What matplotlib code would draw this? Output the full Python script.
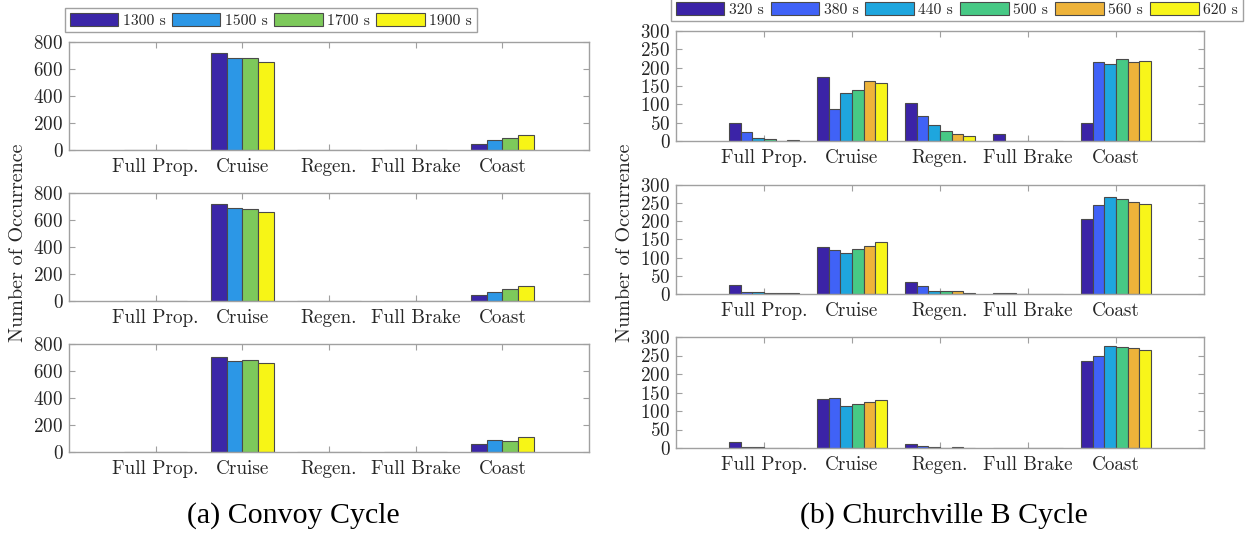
import numpy as np
import matplotlib
matplotlib.use("Agg")
import matplotlib.pyplot as plt
from matplotlib.patches import Patch

plt.rcParams["axes.formatter.use_mathtext"] = True

# ---- data -------------------------------------------------------------
modes = ["Full Prop.", "Cruise", "Regen.", "Full Brake", "Coast"]

convoy_labels = ["1300 s", "1500 s", "1700 s", "1900 s"]
convoy_colors = ["#3B26A8", "#2C97E6", "#7DC95B", "#F7F516"]
# rows: series (horizon), columns: modes
convoy_top = [
    [0, 716, 0, 0, 47],
    [0, 685, 0, 0, 74],
    [0, 680, 0, 0, 89],
    [0, 655, 0, 0, 111],
]
convoy_mid = [
    [2, 718, 2, 0, 47],
    [1, 691, 1, 0, 70],
    [0, 681, 0, 0, 87],
    [0, 658, 0, 0, 112],
]
convoy_bot = [
    [1, 702, 0, 0, 62],
    [1, 677, 0, 0, 86],
    [0, 682, 0, 0, 81],
    [0, 658, 0, 0, 108],
]

church_labels = ["320 s", "380 s", "440 s", "500 s", "560 s", "620 s"]
church_colors = ["#3B23A7", "#4062F7", "#1EA6DE", "#47C985", "#EEB33A", "#F8F51A"]
church_top = [
    [49, 174, 103, 19, 49],
    [24, 87, 68, 0, 215],
    [9, 132, 45, 0, 211],
    [5, 140, 26, 0, 223],
    [0, 163, 18, 0, 215],
    [2, 159, 14, 0, 219],
]
church_mid = [
    [24, 128, 33, 4, 207],
    [6, 121, 21, 2, 244],
    [5, 114, 9, 0, 268],
    [2, 123, 8, 0, 262],
    [2, 132, 8, 0, 254],
    [2, 143, 2, 0, 249],
]
church_bot = [
    [17, 132, 11, 0, 234],
    [4, 135, 6, 0, 249],
    [2, 113, 2, 0, 275],
    [0, 118, 0, 0, 274],
    [0, 123, 2, 0, 270],
    [0, 129, 0, 0, 265],
]

convoy_yticks = [0, 200, 400, 600, 800]
church_yticks = [0, 50, 100, 150, 200, 250, 300]

# ---- styling ----------------------------------------------------------
TICK_FONT = "cmr10"
CAPTION_FONT = "Liberation Serif"
SPINE = "#a0a0a0"
TEXT = "#262626"
EDGE = "#4a4a4a"

W, H = 1245, 535
fig = plt.figure(figsize=(W / 100, H / 100), dpi=100)


def px_axes(x0, x1, y0, y1):
    return fig.add_axes([x0 / W, 1 - y1 / H, (x1 - x0) / W, (y1 - y0) / H])


def grouped_bars(ax, data, colors, yticks):
    n = len(data)
    x = np.arange(1, len(modes) + 1)
    group = min(0.8, n / (n + 1.5))
    w = group / n
    for i, (vals, c) in enumerate(zip(data, colors)):
        ax.bar(x + (i - (n - 1) / 2) * w, vals, width=w, color=c,
               edgecolor=EDGE, linewidth=0.8, zorder=2)
    ax.set_xlim(0, 6)
    ax.set_ylim(yticks[0], yticks[-1])
    ax.set_xticks(x)
    ax.set_xticklabels(modes)
    ax.set_yticks(yticks)
    ax.tick_params(direction="in", top=True, right=True, length=4,
                   width=0.8, color=SPINE, labelcolor=TEXT, labelsize=13.8,
                   pad=4)
    ax.tick_params(axis="x", pad=6)
    for lab in ax.get_xticklabels() + ax.get_yticklabels():
        lab.set_fontfamily(TICK_FONT)
    for sp in ax.spines.values():
        sp.set_color(SPINE)
        sp.set_linewidth(1.0)


left_rows = [(42, 150), (193, 301), (344, 452)]
right_rows = [(31, 141), (185, 294), (337, 448)]

for (y0, y1), d in zip(left_rows, [convoy_top, convoy_mid, convoy_bot]):
    ax = px_axes(69, 589, y0, y1)
    grouped_bars(ax, d, convoy_colors, convoy_yticks)

for (y0, y1), d in zip(right_rows, [church_top, church_mid, church_bot]):
    ax = px_axes(676, 1204, y0, y1)
    grouped_bars(ax, d, church_colors, church_yticks)

# y labels
fig.text(18 / W, 1 - 243 / H, "Number of Occurrence", rotation=90,
         ha="center", va="center", fontsize=14.5, family=TICK_FONT, color=TEXT)
fig.text(625 / W, 1 - 243 / H, "Number of Occurrence", rotation=90,
         ha="center", va="center", fontsize=14.5, family=TICK_FONT, color=TEXT)


def make_legend(labels, colors, anchor, colspace):
    handles = [Patch(facecolor=c, edgecolor=EDGE, linewidth=0.8) for c in colors]
    leg = fig.legend(handles, labels, loc="upper left", bbox_to_anchor=anchor,
                     ncol=len(labels), frameon=True, fancybox=False,
                     borderaxespad=0, borderpad=0.3, handlelength=3.1,
                     handleheight=0.92, handletextpad=0.28,
                     columnspacing=colspace,
                     prop={"family": TICK_FONT, "size": 11.3})
    leg.get_frame().set_edgecolor("#8a8a8a")
    leg.get_frame().set_linewidth(1.0)
    for t in leg.get_texts():
        t.set_color(TEXT)
    return leg


make_legend(convoy_labels, convoy_colors, (65 / W, 1 - 8 / H), 0.4)
make_legend(church_labels, church_colors, (671 / W, 1 + 3 / H), 0.45)

# captions
fig.text(293 / W, 1 - 516 / H, "(a) Convoy Cycle", ha="center", va="center",
         fontsize=21.5, family=CAPTION_FONT, color="black")
fig.text(944 / W, 1 - 516 / H, "(b) Churchville B Cycle", ha="center",
         va="center", fontsize=21.5, family=CAPTION_FONT, color="black")

fig.savefig("out.png", dpi=100, facecolor="white")
